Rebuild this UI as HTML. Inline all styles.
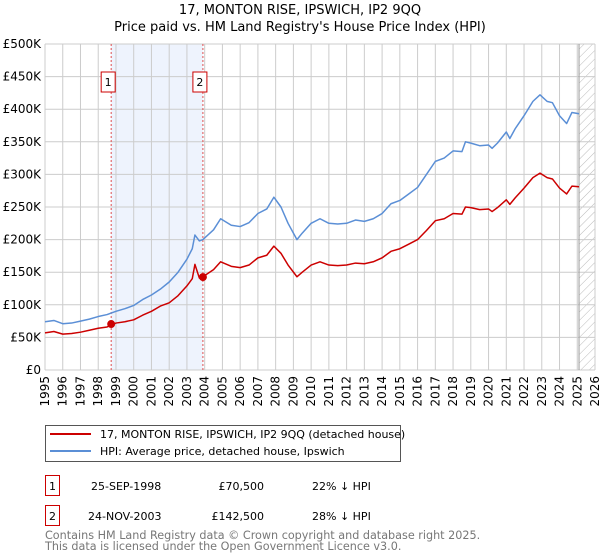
<!DOCTYPE html>
<html><head><meta charset="utf-8"><style>
body{margin:0;background:#fff;font-family:"DejaVu Sans","Liberation Sans",sans-serif;}
svg{display:block}
</style></head><body>
<svg id="c" width="600" height="560" xmlns="http://www.w3.org/2000/svg" font-family="DejaVu Sans, Liberation Sans, sans-serif">
<defs><pattern id="hatch" width="6" height="6" patternUnits="userSpaceOnUse" patternTransform="rotate(45)"><line x1="0" y1="0" x2="0" y2="6" stroke="#bbb" stroke-width="1"/></pattern></defs>
<text x="300" y="14" text-anchor="middle" font-size="13" fill="#000">17, MONTON RISE, IPSWICH, IP2 9QQ</text>
<text x="300" y="31" text-anchor="middle" font-size="13" fill="#000">Price paid vs. HM Land Registry's House Price Index (HPI)</text>
<g id="plot"></g>
<g>
<rect x="45.5" y="425.5" width="355" height="36" fill="#fff" stroke="#555"/>
<line x1="50" y1="434" x2="91" y2="434" stroke="#cc0000" stroke-width="2"/>
<text x="100" y="438" font-size="11">17, MONTON RISE, IPSWICH, IP2 9QQ (detached house)</text>
<line x1="50" y1="451" x2="91" y2="451" stroke="#5b8fd6" stroke-width="2"/>
<text x="100" y="455" font-size="11">HPI: Average price, detached house, Ipswich</text>
</g>
<g font-size="11">
<rect x="45.5" y="475.5" width="14" height="20" fill="#fff" stroke="#cc0000"/>
<text x="52.5" y="490" text-anchor="middle">1</text>
<text x="91" y="490">25-SEP-1998</text>
<text x="264" y="490" text-anchor="end">£70,500</text>
<text x="312" y="490">22% ↓ HPI</text>
<rect x="45.5" y="505.5" width="14" height="20" fill="#fff" stroke="#cc0000"/>
<text x="52.5" y="520" text-anchor="middle">2</text>
<text x="88" y="520">24-NOV-2003</text>
<text x="264" y="520" text-anchor="end">£142,500</text>
<text x="312" y="520">28% ↓ HPI</text>
</g>
<text x="45" y="539" font-size="11.2" fill="#777">Contains HM Land Registry data © Crown copyright and database right 2025.</text>
<text x="45" y="550" font-size="11.2" fill="#777">This data is licensed under the Open Government Licence v3.0.</text>
</svg>
<script>
const hpiYears=[1995,1995.5,1996,1996.5,1997,1997.5,1998,1998.5,1999,1999.5,2000,2000.5,2001,2001.5,2002,2002.5,2003,2003.3,2003.45,2003.7,2003.9,2004.5,2004.9,2005.5,2006,2006.5,2007,2007.5,2007.9,2008.3,2008.7,2009.2,2009.5,2010,2010.5,2011,2011.5,2012,2012.5,2013,2013.5,2014,2014.5,2015,2015.5,2016,2016.5,2017,2017.5,2018,2018.5,2018.7,2019,2019.5,2020,2020.2,2020.5,2021,2021.2,2021.5,2022,2022.5,2022.9,2023.3,2023.6,2024,2024.4,2024.7,2025.1];
const hpiValues=[74,76,71,72,75,78,82,85,90,94,99,108,115,124,135,150,170,186,207,198,200,215,232,222,220,226,240,247,265,250,225,200,210,225,232,225,224,225,230,228,232,240,255,260,270,280,300,320,325,336,335,350,348,344,345,340,348,365,355,370,390,412,422,412,410,390,378,395,393];
const paidYears=[1995,1995.5,1996,1996.5,1997,1997.5,1998,1998.5,1999,1999.5,2000,2000.5,2001,2001.5,2002,2002.5,2003,2003.3,2003.45,2003.7,2003.9,2004.5,2004.9,2005.5,2006,2006.5,2007,2007.5,2007.9,2008.3,2008.7,2009.2,2009.5,2010,2010.5,2011,2011.5,2012,2012.5,2013,2013.5,2014,2014.5,2015,2015.5,2016,2016.5,2017,2017.5,2018,2018.5,2018.7,2019,2019.5,2020,2020.2,2020.5,2021,2021.2,2021.5,2022,2022.5,2022.9,2023.3,2023.6,2024,2024.4,2024.7,2025.1];
const paidValues=[57,59,55,56,58,61,64,66,72,74,77,84,90,98,103,114,129,140,162,141,143,154,166,159,157,161,172,176,190,179,161,143,150,161,166,161,160,161,164,163,166,172,182,186,193,200,214,229,232,240,239,250,249,246,247,243,249,261,254,264,279,295,302,295,293,279,270,282,281];
const saleYears=[1998.73,2003.9];
const saleValues=[70.5,142.5];
const saleLabels=["1","2"];
const yTicks=[0,50,100,150,200,250,300,350,400,450,500];
const yTickLabels=["£0","£50K","£100K","£150K","£200K","£250K","£300K","£350K","£400K","£450K","£500K"];
const xTicks=[1995,1996,1997,1998,1999,2000,2001,2002,2003,2004,2005,2006,2007,2008,2009,2010,2011,2012,2013,2014,2015,2016,2017,2018,2019,2020,2021,2022,2023,2024,2025,2026];

const L=45,R=595,T=44,B=370,X0=1995,X1=2026,YMAX=500,DATA_END=2025.1;
const sx=v=>L+(v-X0)/(X1-X0)*(R-L);
const sy=v=>B-v/YMAX*(B-T);
const NS="http://www.w3.org/2000/svg";
const g=document.getElementById('plot');
function mk(tag,attrs,parent){const e=document.createElementNS(NS,tag);for(const k in attrs)e.setAttribute(k,attrs[k]);(parent||g).appendChild(e);return e;}

const shade=mk('rect',{x:sx(saleYears[0]),y:T,width:sx(saleYears[1])-sx(saleYears[0]),height:B-T,fill:'#eef3fd'});


const hat=mk('rect',{x:sx(DATA_END),y:T,width:R-sx(DATA_END),height:B-T,fill:'url(#hatch)'});



xTicks.forEach(t=>{
  const ln=mk('line',{x1:sx(t),x2:sx(t),y1:T,y2:B,stroke:'#ccc','stroke-width':1});
  
  
  const tx=mk('text',{x:0,y:0,'font-size':12,'text-anchor':'end',transform:`translate(${sx(t)+4},${B+6}) rotate(-90)`});
  tx.textContent=t;
  
  
});
yTicks.forEach((t,i)=>{
  const ln=mk('line',{x1:L,x2:R,y1:sy(t),y2:sy(t),stroke:'#ccc','stroke-width':1});
  
  
  const tx=mk('text',{x:L-4,y:sy(t)+4,'font-size':12,'text-anchor':'end'});
  tx.textContent=yTickLabels[i];
  
  
});
const endLine=mk('line',{x1:sx(DATA_END),x2:sx(DATA_END),y1:T,y2:B,stroke:'#999','stroke-width':1});



saleYears.forEach((y,i)=>{
  const ln=mk('line',{x1:sx(y),x2:sx(y),y1:T,y2:B,stroke:'#e05050','stroke-width':1,'stroke-dasharray':'2,2'});
  
  
  const bx=mk('rect',{x:sx(y)-10,y:72,width:14,height:20,fill:'#fff',stroke:'#cc0000'});
  
  
  const tx=mk('text',{x:sx(y)-3,y:86,'font-size':11,'text-anchor':'middle'});
  tx.textContent=saleLabels[i];
  
  
});

const hp=mk('polyline',{points:hpiYears.map((y,i)=>sx(y)+','+sy(hpiValues[i])).join(' '),fill:'none',stroke:'#5b8fd6','stroke-width':1.5,'stroke-linejoin':'round'});


const pp=mk('polyline',{points:paidYears.map((y,i)=>sx(y)+','+sy(paidValues[i])).join(' '),fill:'none',stroke:'#cc0000','stroke-width':1.5,'stroke-linejoin':'round'});


saleYears.forEach((y,i)=>{
  const c=mk('circle',{cx:sx(y),cy:sy(saleValues[i]),r:4,fill:'#cc0000'});
  
  
});
</script>
</body></html>
